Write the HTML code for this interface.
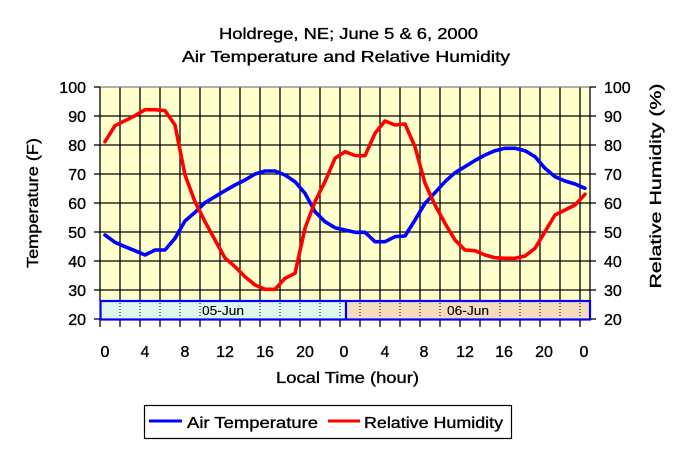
<!DOCTYPE html>
<html><head><meta charset="utf-8"><style>
html,body{margin:0;padding:0;background:#fff;}
svg{display:block;}
text{font-family:"Liberation Sans",sans-serif;fill:#000;stroke:#000;stroke-width:0.35px;}
</style></head><body>
<svg width="681" height="450" viewBox="0 0 681 450" xmlns="http://www.w3.org/2000/svg">
<rect x="0" y="0" width="681" height="450" fill="#fff"/>
<!-- titles -->
<text x="348.5" y="39" font-size="16" text-anchor="middle" textLength="259" lengthAdjust="spacingAndGlyphs">Holdrege, NE; June 5 &amp; 6, 2000</text>
<text x="346" y="62" font-size="16" text-anchor="middle" textLength="328" lengthAdjust="spacingAndGlyphs">Air Temperature and Relative Humidity</text>
<!-- plot area -->
<rect x="100" y="87" width="490" height="232" fill="#ffffcc"/>
<g stroke="#000" stroke-width="1.3">
<line x1="100" y1="116" x2="590" y2="116"/>
<line x1="100" y1="145" x2="590" y2="145"/>
<line x1="100" y1="174" x2="590" y2="174"/>
<line x1="100" y1="203" x2="590" y2="203"/>
<line x1="100" y1="232" x2="590" y2="232"/>
<line x1="100" y1="261" x2="590" y2="261"/>
<line x1="100" y1="290" x2="590" y2="290"/>
<line x1="120" y1="87" x2="120" y2="301"/><line x1="140" y1="87" x2="140" y2="301"/><line x1="160" y1="87" x2="160" y2="301"/><line x1="180" y1="87" x2="180" y2="301"/><line x1="200" y1="87" x2="200" y2="301"/><line x1="220" y1="87" x2="220" y2="301"/><line x1="240" y1="87" x2="240" y2="301"/><line x1="260" y1="87" x2="260" y2="301"/><line x1="280" y1="87" x2="280" y2="301"/><line x1="300" y1="87" x2="300" y2="301"/><line x1="320" y1="87" x2="320" y2="301"/><line x1="340" y1="87" x2="340" y2="301"/><line x1="360" y1="87" x2="360" y2="301"/><line x1="380" y1="87" x2="380" y2="301"/><line x1="400" y1="87" x2="400" y2="301"/><line x1="420" y1="87" x2="420" y2="301"/><line x1="440" y1="87" x2="440" y2="301"/><line x1="460" y1="87" x2="460" y2="301"/><line x1="480" y1="87" x2="480" y2="301"/><line x1="500" y1="87" x2="500" y2="301"/><line x1="520" y1="87" x2="520" y2="301"/><line x1="540" y1="87" x2="540" y2="301"/><line x1="560" y1="87" x2="560" y2="301"/><line x1="580" y1="87" x2="580" y2="301"/>
</g>
<line x1="100" y1="87" x2="590" y2="87" stroke="#808080" stroke-width="1.3"/>
<!-- date bar -->
<rect x="101" y="301" width="245" height="18" fill="#def6ee"/>
<rect x="346" y="301" width="244" height="18" fill="#f6dbbf"/>
<g stroke="#000" stroke-width="1" stroke-dasharray="1 2">
<line x1="120" y1="303" x2="120" y2="318"/><line x1="140" y1="303" x2="140" y2="318"/><line x1="160" y1="303" x2="160" y2="318"/><line x1="180" y1="303" x2="180" y2="318"/><line x1="200" y1="303" x2="200" y2="318"/><line x1="260" y1="303" x2="260" y2="318"/><line x1="280" y1="303" x2="280" y2="318"/><line x1="300" y1="303" x2="300" y2="318"/><line x1="320" y1="303" x2="320" y2="318"/><line x1="340" y1="303" x2="340" y2="318"/><line x1="360" y1="303" x2="360" y2="318"/><line x1="380" y1="303" x2="380" y2="318"/><line x1="400" y1="303" x2="400" y2="318"/><line x1="420" y1="303" x2="420" y2="318"/><line x1="440" y1="303" x2="440" y2="318"/><line x1="500" y1="303" x2="500" y2="318"/><line x1="520" y1="303" x2="520" y2="318"/><line x1="540" y1="303" x2="540" y2="318"/><line x1="560" y1="303" x2="560" y2="318"/><line x1="580" y1="303" x2="580" y2="318"/>
</g>
<text x="223" y="315" font-size="12.5" text-anchor="middle" fill="#222" style="stroke-width:0.1px" textLength="42" lengthAdjust="spacingAndGlyphs">05-Jun</text>
<text x="468" y="315" font-size="12.5" text-anchor="middle" fill="#222" style="stroke-width:0.1px" textLength="42" lengthAdjust="spacingAndGlyphs">06-Jun</text>
<rect x="100.5" y="301" width="489.5" height="18.5" fill="none" stroke="#0000ff" stroke-width="2.2"/>
<line x1="346" y1="301" x2="346" y2="319.5" stroke="#0000ff" stroke-width="2.2"/>
<!-- axes -->
<g stroke="#000" stroke-width="1.3">
<line x1="100" y1="87" x2="100" y2="301"/>
<line x1="590" y1="87" x2="590" y2="301"/>
<line x1="94" y1="87" x2="100" y2="87"/><line x1="94" y1="116" x2="100" y2="116"/><line x1="94" y1="145" x2="100" y2="145"/><line x1="94" y1="174" x2="100" y2="174"/><line x1="94" y1="203" x2="100" y2="203"/><line x1="94" y1="232" x2="100" y2="232"/><line x1="94" y1="261" x2="100" y2="261"/><line x1="94" y1="290" x2="100" y2="290"/><line x1="94" y1="319" x2="100" y2="319"/>
<line x1="590" y1="87" x2="596" y2="87"/><line x1="590" y1="116" x2="596" y2="116"/><line x1="590" y1="145" x2="596" y2="145"/><line x1="590" y1="174" x2="596" y2="174"/><line x1="590" y1="203" x2="596" y2="203"/><line x1="590" y1="232" x2="596" y2="232"/><line x1="590" y1="261" x2="596" y2="261"/><line x1="590" y1="290" x2="596" y2="290"/><line x1="590" y1="319" x2="596" y2="319"/>
<line x1="100" y1="320" x2="100" y2="327"/><line x1="120" y1="320" x2="120" y2="327"/><line x1="140" y1="320" x2="140" y2="327"/><line x1="160" y1="320" x2="160" y2="327"/><line x1="180" y1="320" x2="180" y2="327"/><line x1="200" y1="320" x2="200" y2="327"/><line x1="220" y1="320" x2="220" y2="327"/><line x1="240" y1="320" x2="240" y2="327"/><line x1="260" y1="320" x2="260" y2="327"/><line x1="280" y1="320" x2="280" y2="327"/><line x1="300" y1="320" x2="300" y2="327"/><line x1="320" y1="320" x2="320" y2="327"/><line x1="340" y1="320" x2="340" y2="327"/><line x1="360" y1="320" x2="360" y2="327"/><line x1="380" y1="320" x2="380" y2="327"/><line x1="400" y1="320" x2="400" y2="327"/><line x1="420" y1="320" x2="420" y2="327"/><line x1="440" y1="320" x2="440" y2="327"/><line x1="460" y1="320" x2="460" y2="327"/><line x1="480" y1="320" x2="480" y2="327"/><line x1="500" y1="320" x2="500" y2="327"/><line x1="520" y1="320" x2="520" y2="327"/><line x1="540" y1="320" x2="540" y2="327"/><line x1="560" y1="320" x2="560" y2="327"/><line x1="580" y1="320" x2="580" y2="327"/>
</g>
<!-- left labels -->
<g font-size="16" text-anchor="end">
<text x="86" y="93">100</text><text x="86" y="122">90</text><text x="86" y="151">80</text><text x="86" y="180">70</text><text x="86" y="209">60</text><text x="86" y="238">50</text><text x="86" y="267">40</text><text x="86" y="296">30</text><text x="86" y="325">20</text>
</g>
<g font-size="16" text-anchor="start">
<text x="604" y="93">100</text><text x="604" y="122">90</text><text x="604" y="151">80</text><text x="604" y="180">70</text><text x="604" y="209">60</text><text x="604" y="238">50</text><text x="604" y="267">40</text><text x="604" y="296">30</text><text x="604" y="325">20</text>
</g>
<!-- x labels -->
<g font-size="16" text-anchor="middle">
<text x="105" y="357">0</text><text x="145" y="357">4</text><text x="185" y="357">8</text><text x="225" y="357">12</text><text x="265" y="357">16</text><text x="305" y="357">20</text><text x="344" y="357">0</text><text x="385" y="357">4</text><text x="424" y="357">8</text><text x="465" y="357">12</text><text x="504" y="357">16</text><text x="544" y="357">20</text><text x="584" y="357">0</text>
</g>
<text x="347.5" y="383" font-size="16" text-anchor="middle" textLength="143" lengthAdjust="spacingAndGlyphs">Local Time (hour)</text>
<text transform="translate(38,203) rotate(-90)" font-size="16" text-anchor="middle" textLength="130" lengthAdjust="spacingAndGlyphs">Temperature (F)</text>
<text transform="translate(661,186) rotate(-90)" font-size="16" text-anchor="middle" textLength="205" lengthAdjust="spacingAndGlyphs">Relative Humidity (%)</text>
<!-- series -->
<polyline fill="none" stroke="#0000ff" stroke-width="3.6" stroke-linejoin="round" stroke-linecap="round" points="105,235 115,242.3 125,246.7 135,250.7 145,255 155,250 165,250 175,238.3 185,221 195,212.3 205,202.7 215,196.7 225,190.7 235,185 245,180 255,174 265,171 275,171 285,175 295,181.7 305,193.3 315,211.7 325,221.7 335,227.7 345,230 355,232.3 365,232.3 375,241.7 385,241.7 395,236.7 405,236 415,220 425,203.3 435,192.7 445,181.7 455,172.7 465,166.7 475,160.5 485,155 495,150.7 505,148.3 515,148.3 525,150.7 535,156.7 545,168.3 555,176.7 565,181 575,184 585,188.3"/>
<polyline fill="none" stroke="#ff0000" stroke-width="3.6" stroke-linejoin="round" stroke-linecap="round" points="105,141.7 115,125.7 125,120.7 135,115.7 145,109.7 155,109.7 165,110.7 175,125 185,175 195,201.7 205,221.7 215,240 225,258 235,266.7 245,276.7 255,285 265,289.3 275,289.3 285,278.3 295,273.3 305,228.3 315,201.7 325,181.7 335,158.3 345,151.7 355,155.5 365,155.7 375,133.3 385,121 395,125 405,124 415,146.7 425,183.3 435,205 445,223.3 455,240 465,250 475,250.7 485,255 495,257.7 505,258.3 515,258.3 525,256 535,248.3 545,231.7 555,215 565,210 575,205 585,194.3"/>
<!-- legend -->
<rect x="144.5" y="405.5" width="367" height="33" fill="#fff" stroke="#000" stroke-width="1.2"/>
<line x1="149" y1="421" x2="182" y2="421" stroke="#0000ff" stroke-width="3"/>
<text x="187" y="428" font-size="16" textLength="131" lengthAdjust="spacingAndGlyphs">Air Temperature</text>
<line x1="328" y1="421" x2="360" y2="421" stroke="#ff0000" stroke-width="3"/>
<text x="364" y="428" font-size="16" textLength="139" lengthAdjust="spacingAndGlyphs">Relative Humidity</text>
</svg>
</body></html>
